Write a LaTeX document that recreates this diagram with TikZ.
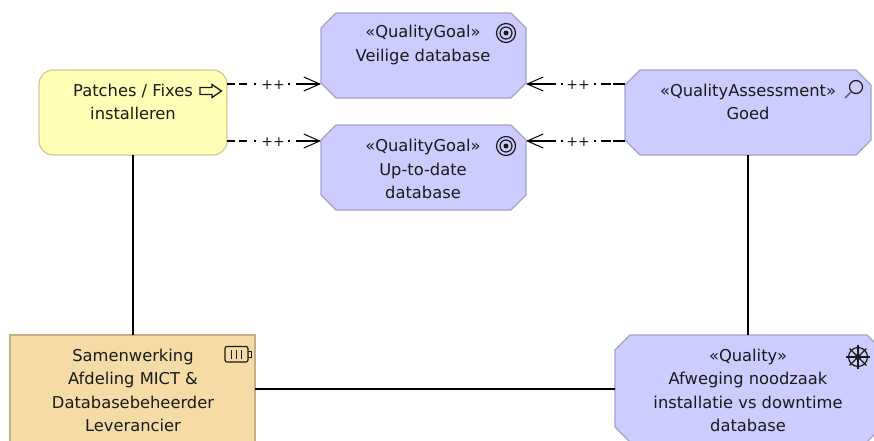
\documentclass[tikz,border=0pt]{standalone}
\usepackage{fontspec}
\setmainfont{DejaVu Sans}
\usetikzlibrary{arrows.meta}
\definecolor{lilac}{HTML}{CCCCFF}
\definecolor{lilacb}{HTML}{A3A3CC}
\definecolor{yel}{HTML}{FFFFB5}
\definecolor{yelb}{HTML}{CCCC91}
\definecolor{org}{HTML}{F5DBA6}
\definecolor{orgb}{HTML}{C4AF85}
\definecolor{ink}{HTML}{1A1A1A}
\newcommand{\octabox}[1]{%
  \path[fill=lilac,draw=lilacb,line width=1.2pt,line join=round]
    ([xshift=15pt]#1.north west) -- ([xshift=-15pt]#1.north east) -- ([yshift=-15pt]#1.north east)
    -- ([yshift=15pt]#1.south east) -- ([xshift=-15pt]#1.south east) -- ([xshift=15pt]#1.south west)
    -- ([yshift=15pt]#1.south west) -- ([yshift=-15pt]#1.north west) -- cycle;}
\tikzset{
  every node/.style={inner sep=0pt,outer sep=0pt},
  shapebox/.style={minimum width=#1,anchor=north west,line width=1.2pt},
  lab/.style={align=center,text=ink,font=\fontsize{16.3}{23.5}\selectfont},
  assoc/.style={line width=1.15pt,black},
  influence/.style={line width=1.1pt,black,-{Straight Barb[length=16pt,width=14pt,line width=1pt]}},
  outward/.style={dash pattern=on 8pt off 4pt on 8pt off 7pt on 2pt off 32pt on 2pt off 6pt on 40pt},
  inward/.style={dash pattern=on 12pt off 2pt on 10pt off 5pt on 2pt off 31pt on 2pt off 5pt on 40pt},
  plus/.style={font=\fontsize{14}{14}\selectfont,text=ink},
  icon/.style={line width=1.2pt,draw=ink}
}
\begin{document}
\begin{tikzpicture}[x=1pt,y=-1pt]
\useasboundingbox (0,0) rectangle (874,440);
\clip (0,0) rectangle (874,440);
% boxes
\node[shapebox=188pt,minimum height=85pt,rounded corners=14pt,fill=yel,draw=yelb] (patch) at (39,70) {};
\node[shapebox=205pt,minimum height=85pt] (goalA) at (321,13) {};
\node[shapebox=205pt,minimum height=85pt] (goalB) at (321,125) {};
\node[shapebox=246pt,minimum height=85pt] (assess) at (625,70) {};
\node[shapebox=245pt,minimum height=115pt,fill=org,draw=orgb] (collab) at (10,335) {};
\node[shapebox=267pt,minimum height=107pt] (quality) at (615,335) {};
\octabox{goalA}
\octabox{goalB}
\octabox{assess}
\octabox{quality}
% anchors of the connectors
\coordinate (pa) at (patch.east |- 0,84);
\coordinate (pb) at (patch.east |- 0,141);
\coordinate (ga) at (goalA.west |- 0,84);
\coordinate (gb) at (goalB.west |- 0,141);
\coordinate (ga2) at (goalA.east |- 0,84);
\coordinate (gb2) at (goalB.east |- 0,141);
\coordinate (aa) at (assess.west |- 0,84);
\coordinate (ab) at (assess.west |- 0,141);
\coordinate (pbot) at (133,155);
\coordinate (ctop) at (133,335);
\coordinate (abot) at (748,155);
\coordinate (qtop) at (748,335);
\coordinate (cr) at (255,389);
\coordinate (ql) at (615,389);
% connectors
\draw[assoc] (pbot) -- (ctop);
\draw[assoc] (abot) -- (qtop);
\draw[assoc] (cr) -- (ql);
\draw[influence,outward] (pa) -- (ga);
\draw[influence,outward] (pb) -- (gb);
\draw[influence,inward] (aa) -- (ga2);
\draw[influence,inward] (ab) -- (gb2);
\node[plus] (p1) at (273,85) {++};
\node[plus] (p2) at (273,142) {++};
\node[plus] (p3) at (578,85) {++};
\node[plus] (p4) at (578,142) {++};
% texts
\node[lab] (tpatch) at (133,102) {Patches / Fixes\\installeren};
\node[lab] (tgoalA) at (423,45) {«QualityGoal»\\Veilige database};
\node[lab] (tgoalB) at (423,169) {«QualityGoal»\\Up-to-date\\database};
\node[lab] (tassess) at (748,102) {«QualityAssessment»\\Goed};
\node[lab] (tcollab) at (133,390.5) {Samenwerking\\Afdeling MICT \&\\Databasebeheerder\\Leverancier};
\node[lab] (tquality) at (748,390.5) {«Quality»\\Afweging noodzaak\\installatie vs downtime\\database};
% icons
\draw[icon,line width=1.3pt,fill=yel,line join=miter] (200,87.5) -- (212,87.5) -- (212,84.5) -- (221.5,91) -- (212,97.5) -- (212,94.5) -- (200,94.5) -- cycle;
\foreach \y in {33,146}{
  \draw[icon] (506,\y) circle (9.5pt);
  \draw[icon] (506,\y) circle (6pt);
  \fill[ink] (506,\y) circle (2.5pt);
}
\draw[icon] (856,87) circle (6.5pt);
\draw[icon,draw=ink!75] (851.3,91.7) -- (845,98);
\draw[icon,rounded corners=2pt] (225,346.5) rectangle (248,362);
\draw[icon,line width=1pt] (248,351) -- (251.5,351) -- (251.5,357.5) -- (248,357.5);
\draw[icon,line width=1pt] (231,350) -- (231,358.5) (236,350) -- (236,358.5) (241,350) -- (241,358.5);
\draw[icon] (858,357) circle (9.5pt);
\foreach \a in {0,45,...,315}{
  \draw[icon,line width=1.1pt] (858,357) -- ++(\a:12pt);
}
\fill[ink] (858,357) circle (3pt);
\end{tikzpicture}
\end{document}
